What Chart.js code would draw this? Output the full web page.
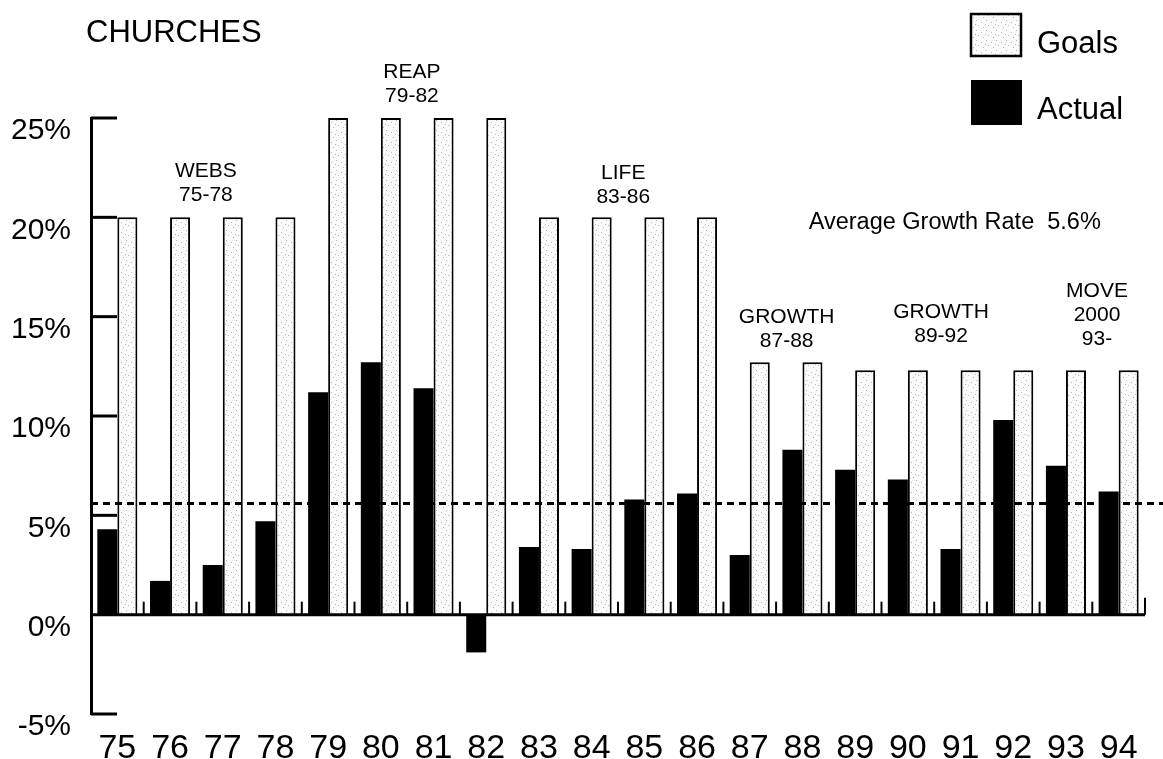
<!DOCTYPE html>
<html>
<head>
<meta charset="utf-8">
<script src="https://cdn.jsdelivr.net/npm/chart.js@4.4.0/dist/chart.umd.min.js"></script>
<style>
  html, body { margin: 0; padding: 0; background: #fff; }
  #wrap { width: 1163px; height: 759px; }
</style>
</head>
<body>
<div id="wrap"><canvas id="chart" width="1163" height="759"></canvas></div>
<script>
const years = ['75', '76', '77', '78', '79', '80', '81', '82', '83', '84',
               '85', '86', '87', '88', '89', '90', '91', '92', '93', '94'];
const goals = [20, 20, 20, 20, 25, 25, 25, 25, 20, 20, 20, 20, 12.7, 12.7, 12.3, 12.3, 12.3, 12.3, 12.3, 12.3];
const actual = [4.3, 1.7, 2.5, 4.7, 11.2, 12.7, 11.4, -1.9, 3.4, 3.3, 5.8, 6.1, 3.0, 8.3, 7.3, 6.8, 3.3, 9.8, 7.5, 6.2];
const yTicks = [-5, 0, 5, 10, 15, 20, 25];
const averageRate = 5.6;

// program labels: x = category index, y = value on the % axis (first line)
const programs = [
  { lines: ['WEBS', '75-78'], x: 1.68, y: 22.3 },
  { lines: ['REAP', '79-82'], x: 5.59, y: 27.3 },
  { lines: ['LIFE', '83-86'], x: 9.6, y: 22.2 },
  { lines: ['GROWTH', '87-88'], x: 12.7, y: 14.95 },
  { lines: ['GROWTH', '89-92'], x: 15.63, y: 15.2 },
  { lines: ['MOVE', '2000', '93-'], x: 18.59, y: 16.3 }
];

const FONT = "'Liberation Sans', Arial, Helvetica, sans-serif";

// light speckled fill for the goal bars
function speckle() {
  const c = document.createElement('canvas');
  c.width = 10; c.height = 10;
  const g = c.getContext('2d');
  g.fillStyle = '#fbfbfb';
  g.fillRect(0, 0, 10, 10);
  g.fillStyle = '#b8b8b8';
  [[1, 2], [6, 0], [3, 7], [8, 5], [5, 4]].forEach(p => g.fillRect(p[0], p[1], 1, 1));
  return g.createPattern(c, 'repeat');
}
const goalFill = speckle();

const decor = {
  id: 'decor',
  afterDatasetsDraw(chart) {
    const ctx = chart.ctx;
    const area = chart.chartArea;
    const x = chart.scales.x;
    const y = chart.scales.y;
    const y0 = y.getPixelForValue(0);
    const catW = (area.right - area.left) / years.length;

    ctx.save();
    ctx.strokeStyle = '#000';
    ctx.lineCap = 'butt';

    // short inward ticks on the y axis
    ctx.lineWidth = 3;
    yTicks.forEach(v => {
      if (v === 0) return;
      const py = y.getPixelForValue(v);
      ctx.beginPath();
      ctx.moveTo(area.left, py);
      ctx.lineTo(area.left + 26, py);
      ctx.stroke();
    });

    // zero line
    ctx.beginPath();
    ctx.moveTo(area.left, y0);
    ctx.lineTo(area.right, y0);
    ctx.stroke();

    // small tick marks between years
    ctx.lineWidth = 2;
    years.forEach((_, i) => {
      const bx = x.getPixelForValue(i) + catW / 2;
      const h = i === years.length - 1 ? 17 : 13;
      ctx.beginPath();
      ctx.moveTo(bx, y0);
      ctx.lineTo(bx, y0 - h);
      ctx.stroke();
    });

    // average growth rate
    const ya = y.getPixelForValue(averageRate);
    ctx.lineWidth = 3;
    ctx.setLineDash([7, 5]);
    ctx.beginPath();
    ctx.moveTo(area.left, ya);
    ctx.lineTo(chart.width, ya);
    ctx.stroke();
    ctx.setLineDash([]);

    // texts
    ctx.fillStyle = '#000';
    ctx.textBaseline = 'middle';
    ctx.textAlign = 'center';
    ctx.font = '21px ' + FONT;
    programs.forEach(p => {
      const px = x.getPixelForValue(p.x);
      const py = y.getPixelForValue(p.y);
      p.lines.forEach((t, k) => ctx.fillText(t, px, py + k * 24));
    });

    ctx.font = '23.5px ' + FONT;
    ctx.fillText('Average Growth Rate  ' + averageRate + '%', x.getPixelForValue(15.89), y.getPixelForValue(19.72));

    ctx.textAlign = 'left';
    ctx.font = '31px ' + FONT;
    ctx.fillText('CHURCHES', 86, 33);

    // legend
    ctx.fillStyle = goalFill;
    ctx.fillRect(971, 14, 50, 42);
    ctx.lineWidth = 2.5;
    ctx.strokeRect(971, 14, 50, 42);
    ctx.fillStyle = '#000';
    ctx.fillRect(971, 80, 51, 45);
    ctx.font = '31px ' + FONT;
    ctx.fillText('Goals', 1037, 44);
    ctx.fillText('Actual', 1037, 110);
    ctx.restore();
  }
};

new Chart(document.getElementById('chart'), {
  type: 'bar',
  data: {
    labels: years,
    datasets: [
      {
        label: 'Actual',
        data: actual,
        backgroundColor: '#000',
        borderWidth: 0,
        barPercentage: 1,
        categoryPercentage: 0.76
      },
      {
        label: 'Goals',
        data: goals,
        backgroundColor: goalFill,
        borderColor: '#000',
        borderWidth: 2,
        borderSkipped: 'start',
        barPercentage: 1,
        categoryPercentage: 0.76
      }
    ]
  },
  options: {
    responsive: false,
    devicePixelRatio: 1,
    animation: false,
    layout: { padding: { top: 118, right: 18, left: 0, bottom: 0 } },
    plugins: {
      legend: { display: false },
      title: { display: false },
      tooltip: { enabled: false }
    },
    scales: {
      x: {
        grid: { display: false, drawTicks: false },
        border: { display: false },
        ticks: {
          color: '#000',
          padding: 14,
          maxRotation: 0,
          autoSkip: false,
          font: { family: "'Liberation Sans Narrow', 'Liberation Sans', Arial, sans-serif", size: 34 }
        },
        afterFit: s => { s.height = 45; }
      },
      y: {
        min: -5,
        max: 25,
        grid: { display: false, drawTicks: false },
        border: { display: true, color: '#000', width: 3 },
        ticks: {
          color: '#000',
          padding: 20,
          labelOffset: 13,
          font: { family: FONT, size: 30 },
          callback: v => v + '%'
        },
        afterBuildTicks: s => { s.ticks = yTicks.map(v => ({ value: v })); },
        afterFit: s => { s.width = 91; }
      }
    }
  },
  plugins: [decor]
});
</script>
</body>
</html>
